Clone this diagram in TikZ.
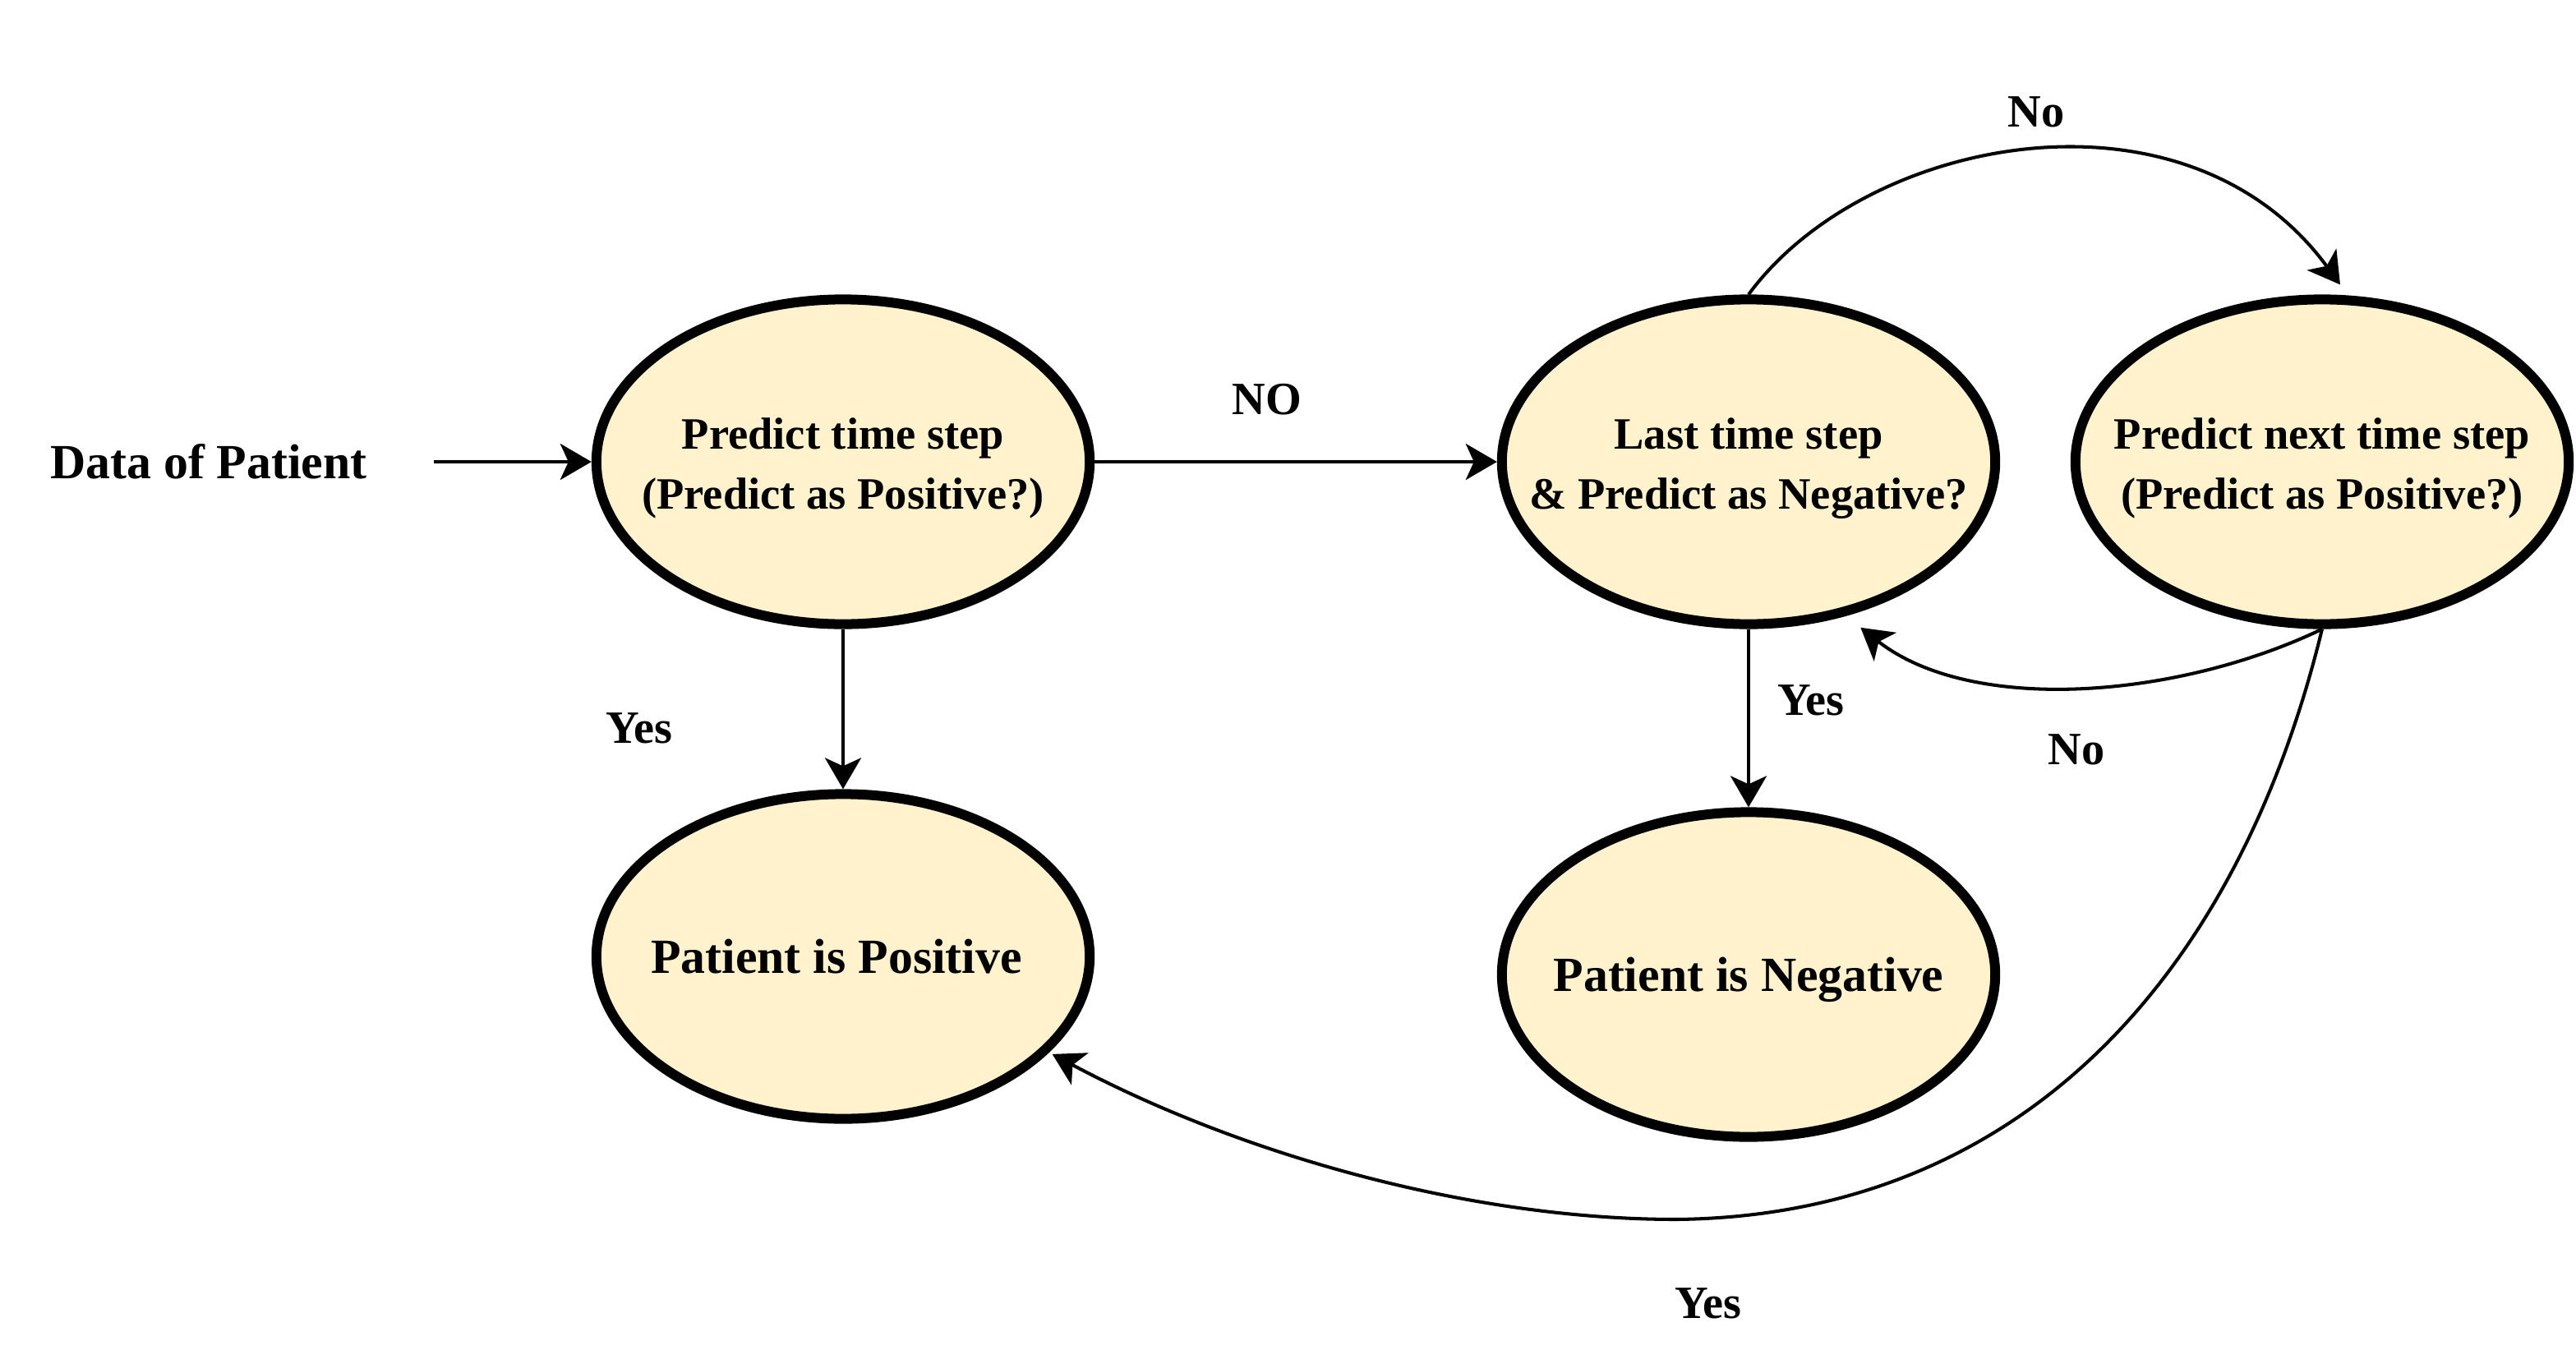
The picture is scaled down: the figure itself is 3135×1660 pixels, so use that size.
\documentclass[tikz,border=0pt]{standalone}
\usepackage{fontspec}
\setmainfont{Liberation Serif}
\usetikzlibrary{shapes.geometric,arrows.meta}
\definecolor{fillY}{HTML}{FFF2CC}
\tikzset{
  state/.style={ellipse,draw=black,fill=fillY,line width=0.12cm,minimum width=6.0cm,minimum height=3.95cm,inner sep=0pt},
  stxt/.style={align=center,font=\bfseries\fontsize{15.5pt}{20.6pt}\selectfont,inner sep=0pt},
  big/.style={font=\bfseries\fontsize{17pt}{20pt}\selectfont,inner sep=0pt},
  lbl/.style={font=\bfseries\fontsize{16pt}{19pt}\selectfont,inner sep=0pt},
  conn/.style={line width=1.15pt,-{Stealth[length=0.38cm,width=0.44cm,inset=0.1cm]}},
}
\begin{document}
\begin{tikzpicture}[x=0.01cm,y=-0.01cm]
\useasboundingbox (0,0) rectangle (3135,1660);
% states
\node[state] (E1) at (1026,562) {};
\node[stxt] (T1) at ([shift={(0,8)}]E1.center) {Predict time step\\(Predict as Positive?)};
\node[state] (E2) at (2128,562) {};
\node[stxt] (T2) at ([shift={(0,8)}]E2.center) {Last time step\\\& Predict as Negative?};
\node[state] (E3) at (2826,562) {};
\node[stxt] (T3) at ([shift={(0,8)}]E3.center) {Predict next time step\\(Predict as Positive?)};
\node[state] (E4) at (1026,1164) {};
\node[big] (T4) at ([shift={(-8,0)}]E4.center) {Patient is Positive};
\node[state] (E5) at (2128,1186) {};
\node[big] (T5) at ([shift={(0,6)}]E5.center) {Patient is Negative};
% input
\node[big] (DP) at (254,562) {Data of Patient};
\coordinate (din) at (528,562);
% labels
\node[lbl] (L1) at (1542,486) {NO};
\node[lbl] (L2) at (778,886) {Yes};
\node[lbl] (L3) at (2204,852) {Yes};
\node[lbl] (L4) at (2478,136) {No};
\node[lbl] (L5) at (2527,912) {No};
\node[lbl] (L6) at (2079,1586) {Yes};
% connectors
\draw[conn] (din) -- (E1.west);
\draw[conn] (E1.east) -- (E2.west);
\draw[conn] (E1.south) -- (E4.north);
\draw[conn] (E2.south) -- (E5.north);
\draw[conn] (E2.north) .. controls (2270,165) and (2660,90) .. ([shift={(22,-12)}]E3.north);
\draw[conn] (E3.south) .. controls (2650,850) and (2400,870) .. ([shift={(11,16)}]E2.-56);
\draw[conn] (E3.south) .. controls (2720,1200) and (2450,1480) .. (2040,1484)
   .. controls (1780,1484) and (1500,1400) .. ([shift={(4,2)}]E4.-25);
\end{tikzpicture}
\end{document}
